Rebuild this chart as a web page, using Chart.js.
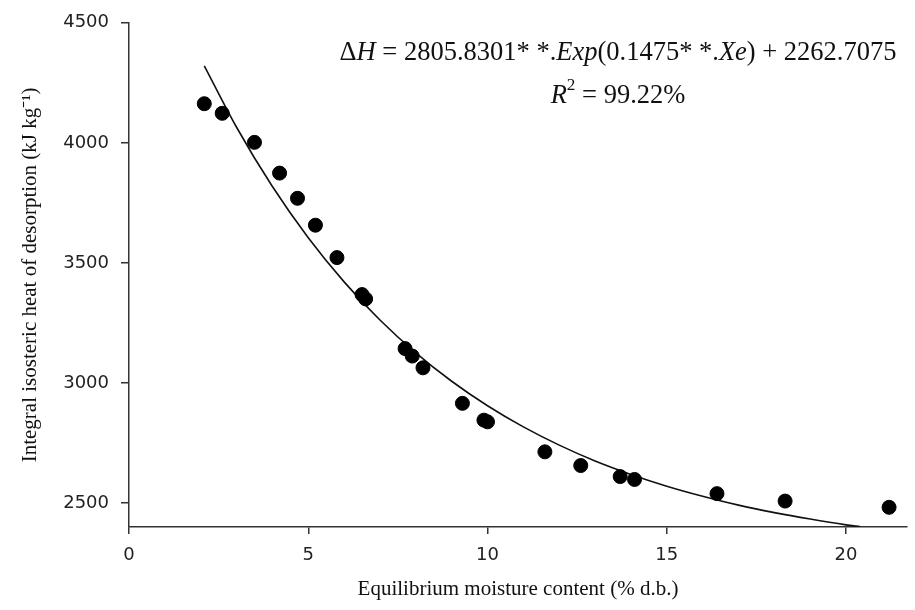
<!DOCTYPE html>
<html>
<head>
<meta charset="utf-8">
<script src="https://cdn.jsdelivr.net/npm/chart.js@4/dist/chart.umd.min.js"></script>
<style>
  html, body { margin: 0; padding: 0; background: #fff; }
  #wrap { width: 915px; height: 610px; }
</style>
</head>
<body>
<div id="wrap"><canvas id="heatChart"></canvas></div>
<script>
// measured points: equilibrium moisture content (% d.b.) vs integral heat (kJ/kg)
var moisture = [2.1, 2.6, 3.5, 4.2, 4.7, 5.2, 5.8, 6.5, 6.6, 7.7, 7.9, 8.2, 9.3, 9.9, 10.0, 11.6, 12.6, 13.7, 14.1, 16.4, 18.3, 21.2];
var heat = [4163, 4123, 4002, 3874, 3769, 3657, 3522, 3368, 3350, 3143, 3112, 3063, 2915, 2845, 2838, 2713, 2656, 2610, 2598, 2539, 2508, 2482];

// fitted curve
var fitMoisture = [2.1, 3, 4, 5, 6, 7, 8, 9, 10, 11, 12, 13, 14, 15, 16, 17, 18, 19, 20, 20.4];
var fitHeat = [4321, 4065, 3818, 3605, 3421, 3262, 3125, 3007, 2905, 2817, 2741, 2675, 2619, 2570, 2528, 2491, 2460, 2433, 2409, 2401];

var xTicks = [0, 5, 10, 15, 20];
var yTicks = [2500, 3000, 3500, 4000, 4500];

function toPoints(xs, ys) {
    var pts = [];
    for (var i = 0; i < xs.length; i++) {
        pts.push({x: xs[i], y: ys[i]});
    }
    return pts;
}

/**
 * Draw a line of text made of pieces with their own style
 * pieces: [text, italic, superscript]
 */
function drawRich(ctx, pieces, cx, cy, size) {
    var fontOf = function(p) {
        var s = p[2] ? size * 0.65 : size;
        return (p[1] ? 'italic ' : '') + s + 'px "Liberation Serif", "Times New Roman", serif';
    };
    var total = 0;
    pieces.forEach(function(p) {
        ctx.font = fontOf(p);
        total += ctx.measureText(p[0]).width;
    });
    var x = cx - total / 2;
    pieces.forEach(function(p) {
        ctx.font = fontOf(p);
        ctx.fillText(p[0], x, p[2] ? cy - size * 0.4 : cy);
        x += ctx.measureText(p[0]).width;
    });
}

var equationPlugin = {
    id: 'equation',
    afterDraw: function(chart) {
        var ctx = chart.ctx;
        ctx.save();
        ctx.fillStyle = '#111';
        ctx.textBaseline = 'middle';
        drawRich(ctx, [
            ['\u0394', false], ['H', true], [' = 2805.8301* *.', false], ['Exp', true],
            ['(0.1475* *.', false], ['Xe', true], [') + 2262.7075', false]
        ], 618, 53, 26.5);
        drawRich(ctx, [
            ['R', true], ['2', false, true], [' = 99.22%', false]
        ], 618, 96, 26.5);
        ctx.restore();
    }
};

var tickFont = {family: '"DejaVu Sans", sans-serif', size: 18};
var titleFont = {family: '"Liberation Serif", "Times New Roman", serif', size: 21};
var plainTick = function(value) { return String(value); };

new Chart(document.getElementById('heatChart'), {
    type: 'scatter',
    data: {
        datasets: [{
            label: 'Fit',
            data: toPoints(fitMoisture, fitHeat),
            showLine: true,
            borderColor: '#111',
            borderWidth: 1.6,
            pointRadius: 0,
            cubicInterpolationMode: 'monotone',
            order: 2
        }, {
            label: 'Measured',
            data: toPoints(moisture, heat),
            backgroundColor: '#000',
            borderColor: '#000',
            pointRadius: 7,
            order: 1
        }]
    },
    options: {
        responsive: true,
        maintainAspectRatio: false,
        animation: false,
        layout: {
            padding: {left: 14, right: 5, top: 17, bottom: 4}
        },
        plugins: {
            legend: {display: false},
            tooltip: {enabled: false}
        },
        scales: {
            x: {
                type: 'linear',
                min: 0,
                max: 21.7,
                afterBuildTicks: function(scale) {
                    scale.ticks = xTicks.map(function(v) { return {value: v}; });
                },
                afterFit: function(scale) { scale.height = 79; },
                grid: {drawOnChartArea: false, drawTicks: true, tickLength: 7, color: '#333', lineWidth: 1.5},
                border: {display: true, color: '#333', width: 1.5},
                ticks: {font: tickFont, color: '#222', padding: 11, callback: plainTick},
                title: {display: true, text: 'Equilibrium moisture content (% d.b.)', font: titleFont, color: '#111', padding: {top: 4}}
            },
            y: {
                type: 'linear',
                min: 2400,
                max: 4500,
                afterBuildTicks: function(scale) {
                    scale.ticks = yTicks.map(function(v) { return {value: v}; });
                },
                afterFit: function(scale) { scale.width = 115; },
                grid: {drawOnChartArea: false, drawTicks: true, tickLength: 8, color: '#333', lineWidth: 1.5},
                border: {display: true, color: '#333', width: 1.5},
                ticks: {font: tickFont, color: '#222', padding: 12, callback: plainTick},
                title: {display: true, text: 'Integral isosteric heat of desorption (kJ kg\u207B\u00B9)', font: titleFont, color: '#111', padding: 4}
            }
        }
    },
    plugins: [equationPlugin]
});
</script>
</body>
</html>
